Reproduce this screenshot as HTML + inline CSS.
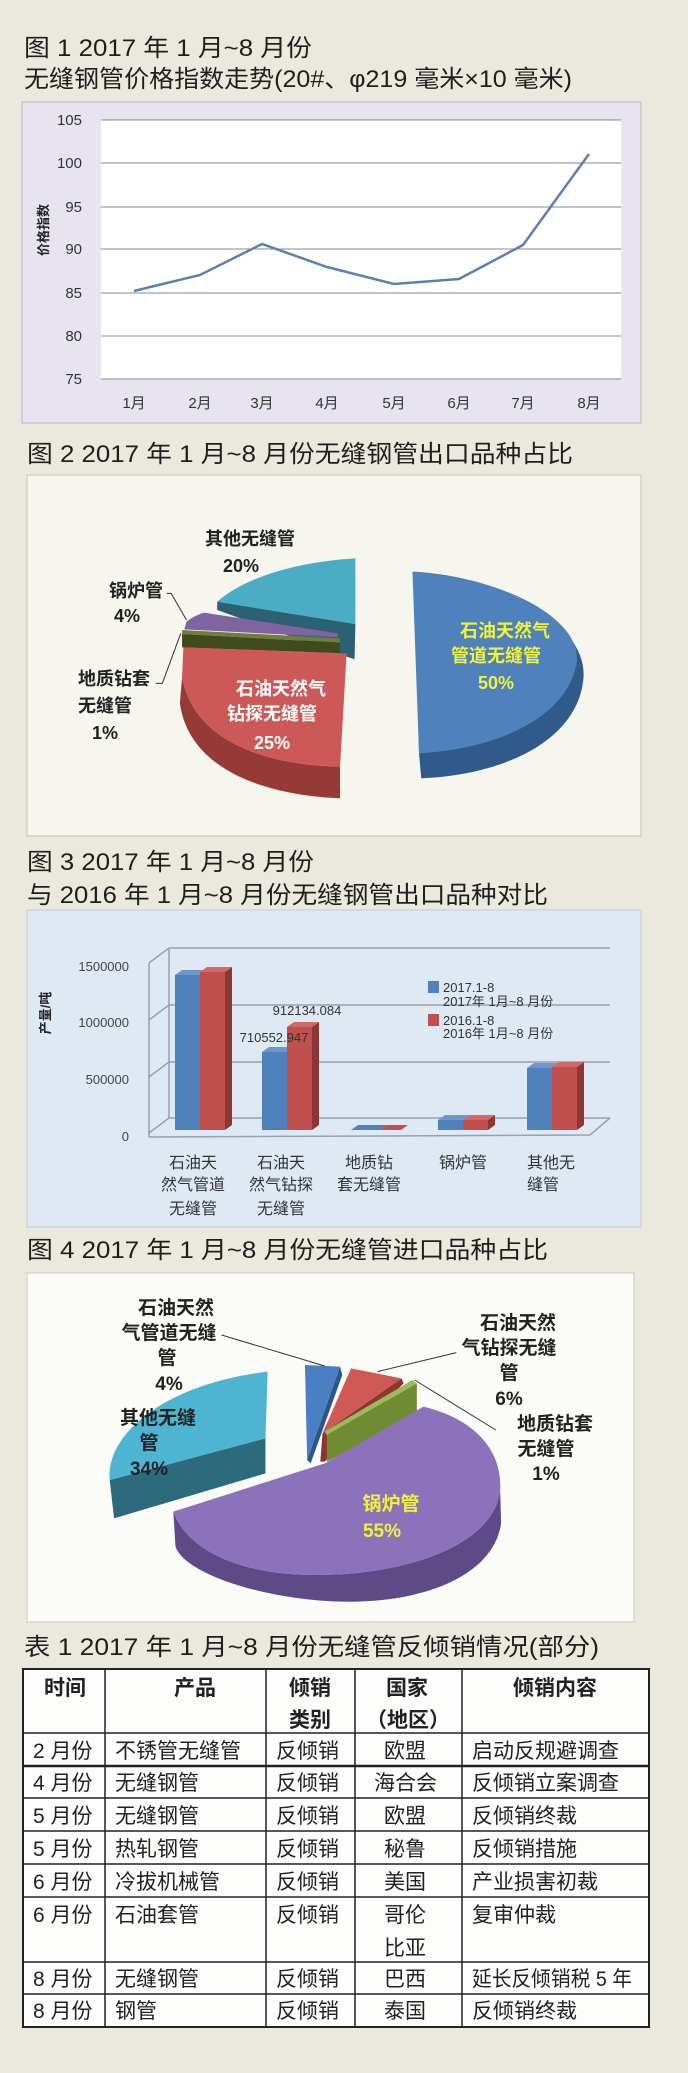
<!DOCTYPE html>
<html><head><meta charset="utf-8"><style>
html,body{margin:0;padding:0;background:#ebe9de;}
svg{display:block}
text{font-family:"Liberation Sans","Noto Sans CJK SC",sans-serif;}
.t{font-size:24px;fill:#1e1e1e}
.s{font-family:"Liberation Serif","Noto Serif CJK SC",serif;font-weight:bold;font-size:18px;fill:#222}
.tb{font-size:21px;fill:#222}
.th{font-family:"Liberation Serif","Noto Serif CJK SC",serif;font-weight:bold;font-size:21px;fill:#222}
</style></head><body>
<svg width="688" height="2073" viewBox="0 0 688 2073" xmlns="http://www.w3.org/2000/svg">
<rect width="688" height="2073" fill="#ebe9de"/>

<!-- Titles -->
<text class="t" x="24" y="56" textLength="288" lengthAdjust="spacingAndGlyphs">图 1  2017 年 1 月~8 月份</text>
<text class="t" x="24" y="87" textLength="548" lengthAdjust="spacingAndGlyphs">无缝钢管价格指数走势(20#、φ219 毫米×10 毫米)</text>
<text class="t" x="27" y="462" textLength="546" lengthAdjust="spacingAndGlyphs">图 2  2017 年 1 月~8 月份无缝钢管出口品种占比</text>
<text class="t" x="27" y="870" textLength="287" lengthAdjust="spacingAndGlyphs">图 3  2017 年 1 月~8 月份</text>
<text class="t" x="27" y="903" textLength="521" lengthAdjust="spacingAndGlyphs">与 2016 年 1 月~8 月份无缝钢管出口品种对比</text>
<text class="t" x="27" y="1258" textLength="521" lengthAdjust="spacingAndGlyphs">图 4  2017 年 1 月~8 月份无缝管进口品种占比</text>
<text class="t" x="24" y="1655" textLength="575" lengthAdjust="spacingAndGlyphs">表 1  2017 年 1 月~8 月份无缝管反倾销情况(部分)</text>

<!-- Chart 1 -->
<rect x="22" y="102" width="619" height="321" fill="#e8e4ef" stroke="#b8b4c4"/>
<rect x="101" y="120" width="520" height="259" fill="#ffffff"/>
<g stroke="#8a8a8a" stroke-width="1">
<line x1="101" y1="120" x2="621" y2="120"/><line x1="101" y1="163" x2="621" y2="163"/>
<line x1="101" y1="207" x2="621" y2="207"/><line x1="101" y1="249" x2="621" y2="249"/>
<line x1="101" y1="293" x2="621" y2="293"/><line x1="101" y1="336" x2="621" y2="336"/>
<line x1="101" y1="379" x2="621" y2="379"/>
</g>
<g font-size="15" fill="#333" text-anchor="end">
<text x="82" y="125">105</text><text x="82" y="168">100</text><text x="82" y="212">95</text>
<text x="82" y="254">90</text><text x="82" y="298">85</text><text x="82" y="341">80</text><text x="82" y="384">75</text>
</g>
<text transform="translate(48,230) rotate(-90)" text-anchor="middle" font-size="13" font-weight="bold" fill="#222">价格指数</text>
<polyline points="134,291 200,275 262,244 327,267 394,284 459,279 523,245 589,154" fill="none" stroke="#5b80b2" stroke-width="2.5"/>
<g font-size="15" fill="#333" text-anchor="middle">
<text x="134" y="408">1月</text><text x="200" y="408">2月</text><text x="262" y="408">3月</text><text x="327" y="408">4月</text>
<text x="394" y="408">5月</text><text x="459" y="408">6月</text><text x="523" y="408">7月</text><text x="589" y="408">8月</text>
</g>

<!-- Chart 2 -->
<rect x="27" y="475" width="614" height="361" fill="#f7f6ee" stroke="#c4c2b8"/>
<g transform="translate(0,420) scale(0.43878,0.33333)">
<path d="M945,455 C1200,480 1335,640 1330,770 C1320,960 1150,1065 960,1075 L955,1000 Z" fill="#2f5a8a"/>
<path d="M940,455 C1180,480 1320,610 1315,720 C1300,880 1150,985 955,1000 Z" fill="#4f81bd"/>
<path d="M495,545 L810,612 L808,718 L495,570 Z" fill="#2b6173"/>
<path d="M495,545 C560,470 680,425 810,415 L810,612 Z" fill="#4bacc6"/>
<path d="M425,605 C440,590 455,582 465,578 L770,640 L770,652 L420,628 Z" fill="#8064a2"/>
<path d="M415,630 L775,655 L775,668 L415,642 Z" fill="#6f7f3a"/>
<path d="M415,642 L775,668 L775,700 L415,682 Z" fill="#3f4a1e"/>
<path d="M415,770 C440,960 600,1035 775,1040 L775,1135 C590,1125 430,1040 410,850 Z" fill="#963a38"/>
<path d="M418,682 L790,700 L775,1040 C600,1035 440,960 415,770 Z" fill="#cc5957"/>
<path d="M380,520 L390,520 L425,600 M355,790 L370,790 L412,640" fill="none" stroke="#333" stroke-width="1" vector-effect="non-scaling-stroke"/>
</g>
<g class="s" text-anchor="middle">
<text x="250" y="545">其他无缝管</text><text x="241" y="572">20%</text>
<text x="136" y="597">锅炉管</text><text x="127" y="622">4%</text>
<text x="114" y="685">地质钻套</text><text x="105" y="712">无缝管</text><text x="105" y="739">1%</text>
</g>
<g class="s" text-anchor="middle" fill="#fff" style="fill:#fff">
<text x="281" y="695" style="fill:#fff">石油天然气</text><text x="272" y="720" style="fill:#fff">钻探无缝管</text><text x="272" y="749" style="fill:#fff">25%</text>
</g>
<g class="s" text-anchor="middle">
<text x="505" y="637" style="fill:#f2f23a">石油天然气</text><text x="496" y="662" style="fill:#f2f23a">管道无缝管</text><text x="496" y="689" style="fill:#f2f23a">50%</text>
</g>

<!-- Chart 3 -->
<rect x="27" y="910" width="614" height="317" fill="#dfe9f4" stroke="#c4ccd6"/>
<g stroke="#9aa0a8" stroke-width="1.5" fill="none">
<line x1="169" y1="948" x2="610" y2="948"/><line x1="169" y1="1005" x2="610" y2="1005"/>
<line x1="169" y1="1062" x2="610" y2="1062"/><line x1="169" y1="1118" x2="610" y2="1118"/>
<line x1="149" y1="963" x2="169" y2="948"/><line x1="149" y1="1020" x2="169" y2="1005"/>
<line x1="149" y1="1077" x2="169" y2="1062"/><line x1="149" y1="1133" x2="169" y2="1118"/>
<line x1="149" y1="963" x2="149" y2="1137"/><line x1="169" y1="948" x2="169" y2="1118"/>
<polyline points="149,1137 590,1135 610,1118"/>
</g>
<g font-size="13" fill="#444" text-anchor="end">
<text x="129" y="971">1500000</text><text x="129" y="1027">1000000</text><text x="129" y="1084">500000</text><text x="129" y="1141">0</text>
</g>
<text transform="translate(50,1013) rotate(-90)" text-anchor="middle" font-size="13" font-weight="bold" fill="#222">产量/吨</text>
<g>
<!-- group1 -->
<rect x="175" y="975" width="25" height="155" fill="#4f81bd"/><polygon points="175,975 200,975 207,970 182,970" fill="#6d97cc"/>
<rect x="200" y="972" width="25" height="158" fill="#c0504d"/><polygon points="200,972 225,972 232,967 207,967" fill="#d06a66"/><polygon points="225,972 232,967 232,1125 225,1130" fill="#8e3634"/>
<!-- group2 -->
<rect x="262" y="1052" width="25" height="78" fill="#4f81bd"/><polygon points="262,1052 287,1052 294,1047 269,1047" fill="#6d97cc"/>
<rect x="287" y="1027" width="25" height="103" fill="#c0504d"/><polygon points="287,1027 312,1027 319,1022 294,1022" fill="#d06a66"/><polygon points="312,1027 319,1022 319,1125 312,1130" fill="#8e3634"/>
<!-- group3 -->
<polygon points="351,1130 380,1130 387,1125 358,1125" fill="#4f81bd"/><polygon points="380,1130 401,1130 408,1125 387,1125" fill="#c0504d"/>
<!-- group4 -->
<rect x="438" y="1120" width="25" height="10" fill="#4f81bd"/><polygon points="438,1120 463,1120 470,1115 445,1115" fill="#6d97cc"/>
<rect x="463" y="1120" width="25" height="10" fill="#c0504d"/><polygon points="463,1120 488,1120 495,1115 470,1115" fill="#d06a66"/><polygon points="488,1120 495,1115 495,1125 488,1130" fill="#8e3634"/>
<!-- group5 -->
<rect x="527" y="1068" width="25" height="62" fill="#4f81bd"/><polygon points="527,1068 552,1068 559,1063 534,1063" fill="#6d97cc"/>
<rect x="552" y="1067" width="25" height="63" fill="#c0504d"/><polygon points="552,1067 577,1067 584,1062 559,1062" fill="#d06a66"/><polygon points="577,1067 584,1062 584,1125 577,1130" fill="#8e3634"/>
</g>
<g font-size="13" fill="#333" text-anchor="middle">
<text x="307" y="1015">912134.084</text><text x="274" y="1042">710552.947</text>
</g>
<rect x="428" y="981" width="11" height="12" fill="#4f81bd"/>
<rect x="428" y="1014" width="11" height="12" fill="#c0504d"/>
<g font-size="13" fill="#333">
<text x="443" y="992">2017.1-8</text><text x="443" y="1006">2017年 1月~8 月份</text>
<text x="443" y="1025">2016.1-8</text><text x="443" y="1038">2016年 1月~8 月份</text>
</g>
<g font-size="16" fill="#333" text-anchor="middle">
<text x="193" y="1168">石油天</text><text x="193" y="1190">然气管道</text><text x="193" y="1214">无缝管</text>
<text x="281" y="1168">石油天</text><text x="281" y="1190">然气钻探</text><text x="281" y="1214">无缝管</text>
<text x="369" y="1168">地质钻</text><text x="369" y="1190">套无缝管</text>
<text x="463" y="1168">锅炉管</text>
<text x="551" y="1168">其他无</text><text x="543" y="1190">缝管</text>
</g>

<!-- Chart 4 -->
<rect x="27" y="1273" width="607" height="349" fill="#fbfbf8" stroke="#c8c8c0"/>
<g transform="translate(0,1260) scale(0.43878,0.33333)">
<path d="M250,660 L605,535 L605,640 L260,775 Z" fill="#2d6a7c"/>
<path d="M610,335 L605,535 L250,660 C240,520 380,370 610,335 Z" fill="#4db4d2"/>
<path d="M700,600 L708,610 L780,345 L775,320 Z" fill="#2d5688"/>
<path d="M695,315 L775,320 L700,600 Z" fill="#4b7fc4"/>
<path d="M735,520 L915,355 L920,370 L740,605 L730,605 Z" fill="#8e3533"/>
<path d="M800,325 L915,355 L735,520 Z" fill="#cf5a55"/>
<path d="M745,525 L950,370 L950,465 L745,605 Z" fill="#6f8c33"/>
<path d="M940,360 L950,370 L745,525 L740,515 Z" fill="#9bbb59"/>
<path d="M395,755 C430,880 560,945 720,945 C920,945 1125,860 1140,690 L1142,790 C1125,950 960,1030 780,1025 C600,1020 420,940 400,860 Z" fill="#5e4a86"/>
<path d="M395,755 L740,610 L965,440 C1090,480 1145,580 1140,690 C1125,860 920,945 720,945 C560,945 430,880 395,755 Z" fill="#8b72ba"/>
<path d="M505,225 L740,318 M1040,278 L860,335 M1130,510 L945,360" fill="none" stroke="#333" stroke-width="1" vector-effect="non-scaling-stroke"/>
</g>
<g class="s" text-anchor="middle" style="font-size:19px">
<text x="176" y="1314">石油天然</text><text x="169" y="1339">气管道无缝</text><text x="167" y="1364">管</text><text x="169" y="1390">4%</text>
<text x="518" y="1329">石油天然</text><text x="509" y="1354">气钻探无缝</text><text x="509" y="1379">管</text><text x="509" y="1405">6%</text>
<text x="555" y="1430">地质钻套</text><text x="546" y="1455">无缝管</text><text x="546" y="1480">1%</text>
<text x="158" y="1424">其他无缝</text><text x="149" y="1449">管</text><text x="149" y="1475">34%</text>
<text x="391" y="1510" style="fill:#f2f23a">锅炉管</text><text x="382" y="1537" style="fill:#f2f23a">55%</text>
</g>

<!-- Table -->
<rect x="23" y="1669" width="626" height="358" fill="#fdfdfb"/>
<g stroke="#222" stroke-width="1.5" fill="none">
<rect x="23" y="1669" width="626" height="358" stroke-width="2"/>
<line x1="23" y1="1733" x2="649" y2="1733"/>
<line x1="23" y1="1766" x2="649" y2="1766" stroke-width="2.5"/>
<line x1="23" y1="1798" x2="649" y2="1798"/>
<line x1="23" y1="1831" x2="649" y2="1831"/>
<line x1="23" y1="1864" x2="649" y2="1864"/>
<line x1="23" y1="1897" x2="649" y2="1897"/>
<line x1="23" y1="1962" x2="649" y2="1962"/>
<line x1="23" y1="1994" x2="649" y2="1994"/>
<line x1="105" y1="1669" x2="105" y2="2027"/>
<line x1="266" y1="1669" x2="266" y2="2027"/>
<line x1="355" y1="1669" x2="355" y2="2027"/>
<line x1="462" y1="1669" x2="462" y2="2027"/>
</g>
<g class="th" text-anchor="middle">
<text x="65" y="1695">时间</text><text x="195" y="1695">产品</text><text x="310" y="1695">倾销</text><text x="310" y="1727">类别</text>
<text x="407" y="1695">国家</text><text x="408" y="1727">（地区）</text><text x="555" y="1695">倾销内容</text>
</g>
<g class="tb">
<text x="33" y="1758">2 月份</text><text x="115" y="1758">不锈管无缝管</text><text x="276" y="1758">反倾销</text><text x="384" y="1758">欧盟</text><text x="472" y="1758">启动反规避调查</text>
<text x="33" y="1790">4 月份</text><text x="115" y="1790">无缝钢管</text><text x="276" y="1790">反倾销</text><text x="374" y="1790">海合会</text><text x="472" y="1790">反倾销立案调查</text>
<text x="33" y="1823">5 月份</text><text x="115" y="1823">无缝钢管</text><text x="276" y="1823">反倾销</text><text x="384" y="1823">欧盟</text><text x="472" y="1823">反倾销终裁</text>
<text x="33" y="1856">5 月份</text><text x="115" y="1856">热轧钢管</text><text x="276" y="1856">反倾销</text><text x="384" y="1856">秘鲁</text><text x="472" y="1856">反倾销措施</text>
<text x="33" y="1889">6 月份</text><text x="115" y="1889">冷拔机械管</text><text x="276" y="1889">反倾销</text><text x="384" y="1889">美国</text><text x="472" y="1889">产业损害初裁</text>
<text x="33" y="1922">6 月份</text><text x="115" y="1922">石油套管</text><text x="276" y="1922">反倾销</text><text x="384" y="1922">哥伦</text><text x="384" y="1955">比亚</text><text x="472" y="1922">复审仲裁</text>
<text x="33" y="1986">8 月份</text><text x="115" y="1986">无缝钢管</text><text x="276" y="1986">反倾销</text><text x="384" y="1986">巴西</text><text x="472" y="1986" textLength="160" lengthAdjust="spacingAndGlyphs">延长反倾销税 5 年</text>
<text x="33" y="2018">8 月份</text><text x="115" y="2018">钢管</text><text x="276" y="2018">反倾销</text><text x="384" y="2018">泰国</text><text x="472" y="2018">反倾销终裁</text>
</g>
</svg>
</body></html>
